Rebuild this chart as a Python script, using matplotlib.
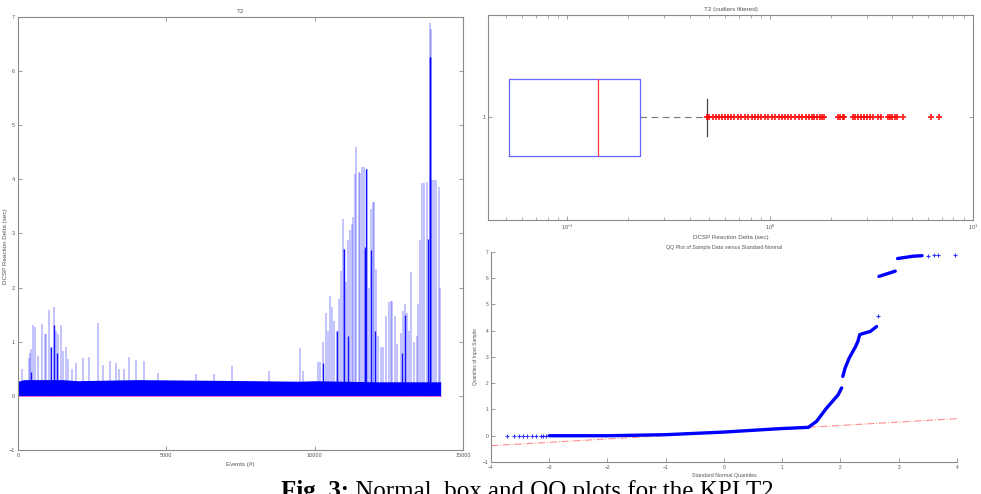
import matplotlib.pyplot as plt
import numpy as np

plt.rcParams['font.family'] = ['Liberation Sans', 'DejaVu Sans']

# ---- left panel: T2 time series ----
band_events = [0, 200, 1500, 2000, 4000, 6000, 8000, 9500, 10000, 11000, 12000, 13000, 14250]
band_top = [0.27, 0.30, 0.30, 0.28, 0.30, 0.29, 0.28, 0.27, 0.28, 0.27, 0.26, 0.26, 0.26]
band_low = [0.0, 0.0, 0.0, 0.0, 0.0, 0.0, 0.0, 0.0, 0.0, 0.0, 0.0, 0.0, 0.0]

spike_events = [147, 370, 410, 450, 520, 560, 680, 815, 900, 960, 1050, 1130, 1220, 1290,
                1360, 1445, 1530, 1615, 1700, 1810, 1945, 2180, 2395, 2690, 2860, 3110,
                3310, 3420, 3560, 3760, 3980, 4240, 4710, 5990, 6610, 7200, 8475, 9515,
                9600, 10100, 10190, 10280, 10370, 10450, 10530, 10590, 10650, 10770,
                10820, 10900, 10946, 11000, 11060, 11120, 11180, 11250, 11300, 11350,
                11410, 11480, 11540, 11600, 11650, 11700, 11760, 11820, 11900, 11960,
                12010, 12060, 12150, 12240, 12320, 12400, 12500, 12560, 12620, 12700,
                12780, 12900, 12980, 13050, 13100, 13170, 13260, 13350, 13450, 13500,
                13550, 13620, 13700, 13780, 13875, 13910, 13960, 14030, 14100, 14190, 14240]
spike_values = [0.49, 0.70, 0.80, 0.87, 1.30, 1.28, 0.74, 1.33, 1.15, 1.14, 1.59, 0.90, 1.65, 1.20,
                1.14, 1.30, 0.83, 0.90, 0.68, 0.50, 0.60, 0.70, 0.72, 1.35, 0.57, 0.64,
                0.60, 0.49, 0.49, 0.72, 0.66, 0.64, 0.42, 0.40, 0.41, 0.56, 0.46, 0.88,
                0.46, 0.62, 0.62, 1.00, 1.54, 1.20, 1.85, 1.64, 1.39, 1.20,
                1.79, 2.30, 3.27, 2.72, 2.10, 2.88, 3.06, 3.17, 3.30, 4.10,
                4.59, 4.14, 4.11, 4.23, 4.23, 2.70, 4.20, 2.00, 3.46, 3.59,
                3.59, 2.35, 1.10, 0.90, 0.90, 1.48, 1.73, 1.76, 1.76, 1.48,
                0.96, 1.17, 1.57, 1.70, 1.54, 1.20, 2.28, 0.99, 1.11, 1.70,
                2.88, 3.93, 3.94, 3.96, 6.89, 6.77, 3.99, 3.99, 3.99, 3.86, 2.00]

dark_events = [450, 1100, 1220, 1300, 10290, 10760, 11000, 11140, 11700, 11720, 11900,
               12050, 12940, 13060, 13830, 13890, 13900]
dark_values = [0.45, 0.90, 1.30, 0.80, 0.60, 1.20, 2.72, 1.10, 2.75, 4.20, 2.70,
               1.20, 0.80, 1.50, 2.90, 6.27, 6.27]

# ---- top right: box plot (outliers filtered) ----
box_q1 = 0.0515
box_median = 0.141
box_q3 = 0.229
box_whisker_hi = 0.489
outliers = [0.49, 0.50, 0.52, 0.54, 0.56, 0.58, 0.60, 0.62, 0.64, 0.66, 0.69, 0.72, 0.75,
            0.78, 0.81, 0.84, 0.87, 0.90, 0.94, 0.98, 1.02, 1.06, 1.10, 1.14, 1.18, 1.22,
            1.27, 1.32, 1.38, 1.44, 1.50, 1.55, 1.60, 1.65, 1.70, 1.75, 1.80, 1.85,
            2.17, 2.22, 2.28, 2.31, 2.57, 2.62, 2.70, 2.80, 2.90, 3.00, 3.10, 3.20,
            3.40, 3.50, 3.80, 3.90, 4.00, 4.10, 4.20, 4.50, 6.20, 6.80]

# ---- bottom right: QQ plot ----
qq_tail_lo_x = [-3.72, -3.60, -3.52, -3.45, -3.38, -3.30, -3.22, -3.15, -3.10, -3.05]
qq_tail_lo_y = [0.0, 0.0, 0.0, 0.0, 0.0, 0.0, 0.0, 0.0, 0.0, 0.0]
qq_segments = [
    ([-3.0, -2.0, -1.0, 0.0, 0.96, 1.45, 1.59, 1.76, 1.96, 2.02],
     [0.0, 0.0, 0.04, 0.14, 0.27, 0.32, 0.55, 1.05, 1.56, 1.82]),
    ([2.04, 2.08, 2.15, 2.26, 2.30, 2.33], [2.26, 2.58, 2.96, 3.40, 3.60, 3.85]),
    ([2.35, 2.51, 2.62], [3.87, 3.97, 4.16]),
    ([2.66, 2.94], [6.07, 6.27]),
    ([2.98, 3.25, 3.40], [6.75, 6.84, 6.86]),
]
qq_tail_hi_x = [2.65, 3.50, 3.60, 3.68, 3.97]
qq_tail_hi_y = [4.55, 6.86, 6.87, 6.88, 6.90]
ref_x = [-4, 4]
ref_y = [-0.38, 0.65]

TXT = '#555555'
SPN = '#8a8a8a'
BLUE = '#0000ff'


def style_axes(ax, fs=4):
    for s in ax.spines.values():
        s.set_color(SPN)
        s.set_linewidth(0.8)
    ax.tick_params(direction='in', length=3, width=0.6, colors=SPN,
                   labelcolor=TXT, labelsize=fs, pad=2)


fig = plt.figure(figsize=(9.81, 4.94), dpi=100)

# left panel
ax1 = fig.add_axes([0.0183, 0.0891, 0.4536, 0.8765])
ax1.fill_between(band_events, band_low, band_top, color=BLUE, lw=0)
ax1.vlines(spike_events, 0, spike_values, color=BLUE, lw=1.1, alpha=0.3)
ax1.vlines(dark_events, 0, dark_values, color=BLUE, lw=1.0, alpha=0.9)
ax1.plot([band_events[0], band_events[-1]], [0, 0], color='#ff66cc', lw=0.6)
ax1.set_xlim(0, 15000)
ax1.set_ylim(-1, 7)
ax1.set_xticks([0, 5000, 10000, 15000])
ax1.set_yticks(range(-1, 8))
ax1.tick_params(top=True, right=True)
style_axes(ax1)
ax1.set_title('T2', fontsize=4.5, color=TXT, pad=3)
ax1.set_xlabel('Events (#)', fontsize=4.5, color=TXT, labelpad=3)
ax1.set_ylabel('DCSP Reaction Delta (sec)', fontsize=4.5, color=TXT, labelpad=1)
ax1.yaxis.set_label_coords(-0.022, 0.47)

# box plot
ax2 = fig.add_axes([0.4975, 0.5547, 0.4944, 0.415])
stats = [dict(q1=box_q1, med=box_median, q3=box_q3, whislo=box_q1,
              whishi=box_whisker_hi, fliers=outliers)]
parts = ax2.bxp(stats, positions=[1], widths=0.375, capwidths=0.185,
                orientation='horizontal',
                boxprops=dict(color='#6666ff', lw=0.9),
                medianprops=dict(color='#ff3333', lw=0.9),
                whiskerprops=dict(color='#777777', lw=0.8, linestyle=(0, (6, 4))),
                capprops=dict(color='#444444', lw=0.9),
                flierprops=dict(marker='+', markeredgecolor='#ff0000', markersize=4,
                                markeredgewidth=1.4, alpha=0.8))
# lower whisker sits on the box edge in the source, so hide its cap
parts['caps'][0].set_visible(False)
parts['whiskers'][0].set_visible(False)
ax2.set_xscale('log')
ax2.set_xlim(0.0406, 10)
ax2.set_ylim(0.5, 1.5)
ax2.set_yticks([1])
ax2.set_yticklabels(['1'])
ax2.tick_params(which='both', top=True, right=True)
style_axes(ax2)
ax2.tick_params(which='minor', direction='in', length=2, width=0.5, colors=SPN)
ax2.set_title('T2 (outliers filtered)', fontsize=4.5, color=TXT, pad=3)
ax2.set_xlabel('DCSP Reaction Delta (sec)', fontsize=4.5, color=TXT, labelpad=2)

# QQ plot
ax3 = fig.add_axes([0.5005, 0.0648, 0.475, 0.4251])
ax3.plot(ref_x, ref_y, color='#ff0000', lw=0.8, linestyle='-.', alpha=0.45)
for sx, sy in qq_segments:
    ax3.plot(sx, sy, color=BLUE, lw=2.4, solid_capstyle='round')
ax3.plot(qq_tail_lo_x, qq_tail_lo_y, '+', color=BLUE, ms=3, mew=0.8, alpha=0.8)
ax3.plot(qq_tail_hi_x, qq_tail_hi_y, '+', color=BLUE, ms=3, mew=0.8, alpha=0.8)
ax3.set_xlim(-4, 4)
ax3.set_ylim(-1, 7)
ax3.set_xticks(range(-4, 5))
ax3.set_yticks(range(-1, 8))
ax3.spines['top'].set_visible(False)
ax3.spines['right'].set_visible(False)
style_axes(ax3, fs=3.5)
ax3.set_title('QQ Plot of Sample Data versus Standard Normal', fontsize=3.8,
              color=TXT, pad=2)
ax3.set_xlabel('Standard Normal Quantiles', fontsize=3.8, color=TXT, labelpad=2)
ax3.set_ylabel('Quantiles of Input Sample', fontsize=3.5, color=TXT, labelpad=3)

# caption, cut by the bottom edge as in the source image
cap = fig.text(281 / 981, -0.009, 'Fig. 3:', fontsize=18, fontweight='bold',
               family='Liberation Serif', va='baseline', ha='left')
ax1.annotate(' Normal, box and QQ plots for the KPI T2', xy=(1, 0), xycoords=cap,
             va='bottom', ha='left', fontsize=18, family='Liberation Serif',
             annotation_clip=False)

fig.savefig('out.png', dpi=100)
